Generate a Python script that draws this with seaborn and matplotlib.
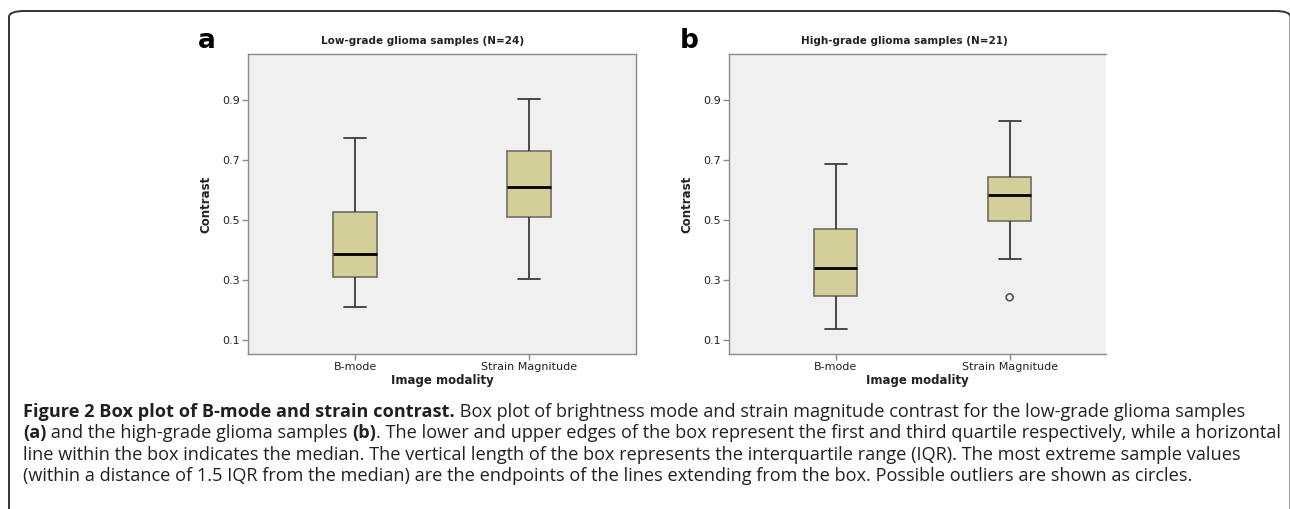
import numpy as np
import pandas as pd
import matplotlib
matplotlib.use("Agg")
import matplotlib.pyplot as plt
from matplotlib.patches import FancyBboxPatch
import seaborn as sns

# ---- data (five-number summaries) ----
categories = ["B-mode", "Strain Magnitude"]
low_bmode = [0.211, 0.310, 0.386, 0.526, 0.774]     # min, Q1, median, Q3, max
low_strain = [0.304, 0.509, 0.609, 0.731, 0.902]
high_bmode = [0.137, 0.247, 0.341, 0.471, 0.688]
high_strain = [0.370, 0.496, 0.583, 0.642, 0.830]
high_strain_outliers = [0.242]
yticks = [0.1, 0.3, 0.5, 0.7, 0.9]
titles = ["Low-grade glioma samples (N=24)", "High-grade glioma samples (N=21)"]
panel_letters = ["a", "b"]

sns.set_theme(style="white")
plt.rcParams["font.family"] = ["DejaVu Sans"]

BOX_FACE = "#d4cf98"
BOX_EDGE = "#6e6e60"
WHISK = "#3c3c3c"
AX_BG = "#f0f0f0"
SPINE = "#8a8a8a"
W, H = 1290, 509

fig = plt.figure(figsize=(W / 100, H / 100), dpi=100)

def make_df(bvals, svals):
    return pd.DataFrame({
        "modality": [categories[0]] * len(bvals) + [categories[1]] * len(svals),
        "contrast": list(bvals) + list(svals),
    })

panels = [
    (make_df(low_bmode, low_strain), [], [248 / W, 0.3045, 388 / W, 0.5894], (-0.615, 1.615), 423),
    (make_df(high_bmode, high_strain), high_strain_outliers, [729.3 / W, 0.3045, 376.4 / W, 0.5894], (-0.611, 1.552), 904),
]

for i, (df, outl, rect, xl, tx) in enumerate(panels):
    ax = fig.add_axes(rect)
    ax.set_facecolor(AX_BG)
    sns.boxplot(data=df, x="modality", y="contrast", order=categories, ax=ax,
                width=0.25, whis=np.inf, showfliers=False,
                color=BOX_FACE, linecolor=BOX_EDGE, linewidth=1.2, saturation=1,
                medianprops=dict(color="black", linewidth=2.0),
                whiskerprops=dict(color=WHISK, linewidth=1.3),
                capprops=dict(color=WHISK, linewidth=1.3))
    if outl:
        odf = pd.DataFrame({"modality": [categories[1]] * len(outl), "contrast": outl})
        sns.stripplot(data=odf, x="modality", y="contrast", order=categories, ax=ax,
                      jitter=False, marker="o", size=5, color="none",
                      edgecolor="#555555", linewidth=1.2)
    ax.set_xlim(*xl)
    ax.set_ylim(0.053, 1.053)
    ax.set_yticks(yticks)
    ax.set_yticklabels([f"{t:.1f}" for t in yticks], fontsize=8, color="#222222")
    ax.tick_params(axis="x", labelsize=8, colors="#222222")
    ax.tick_params(axis="both", direction="out", length=4, width=1, color=SPINE,
                   bottom=True, left=True, pad=2)
    ax.set_xlabel("Image modality", fontsize=8.5, fontweight="bold", labelpad=1, color="#222222")
    ax.set_ylabel("Contrast", fontsize=8.5, fontweight="bold", labelpad=7, color="#222222")
    for s in ax.spines.values():
        s.set_color(SPINE)
        s.set_linewidth(1.0)
        s.set_visible(True)
    if i == 1:
        ax.spines["right"].set_visible(False)
    fig.text(tx / W, 1 - 41 / H, titles[i], fontsize=7.5, fontweight="bold",
             ha="center", va="center", color="#222222")
    fig.text(rect[0] - 50 / W, 1 - 48 / H, panel_letters[i], fontsize=19, fontweight="bold",
             ha="left", va="baseline", color="black")

# frame around the figure (right edge sits just at the image border)
frame = FancyBboxPatch((9 / W, -0.2), (1290.5 - 9) / W, 1.2 - 11 / H,
                       boxstyle="round,pad=0,rounding_size=0.012",
                       transform=fig.transFigure, fill=False, edgecolor="#333333",
                       linewidth=1.4, mutation_aspect=H / W * 2.5)
fig.patches.append(frame)

cap_font = "Open Sans"
cap_size = 13.1
cap_col = "#231f20"
lines_y = [412, 433, 455, 476]
x0 = 23 / W

def seq(y, parts):
    x = x0
    for txt, bold in parts:
        t = fig.text(x, 1 - y / H, txt, fontsize=cap_size, family=cap_font,
                     fontweight="bold" if bold else "normal", va="center", color=cap_col)
        fig.canvas.draw()
        x = t.get_window_extent().x1 / W

seq(lines_y[0], [("Figure 2 Box plot of B-mode and strain contrast.", True),
                 (" Box plot of brightness mode and strain magnitude contrast for the low-grade glioma samples", False)])
seq(lines_y[1], [("(a)", True), (" and the high-grade glioma samples ", False), ("(b)", True),
                 (". The lower and upper edges of the box represent the first and third quartile respectively, while a horizontal", False)])
seq(lines_y[2], [("line within the box indicates the median. The vertical length of the box represents the interquartile range (IQR). The most extreme sample values", False)])
seq(lines_y[3], [("(within a distance of 1.5 IQR from the median) are the endpoints of the lines extending from the box. Possible outliers are shown as circles.", False)])

fig.savefig("out.png", dpi=100)
